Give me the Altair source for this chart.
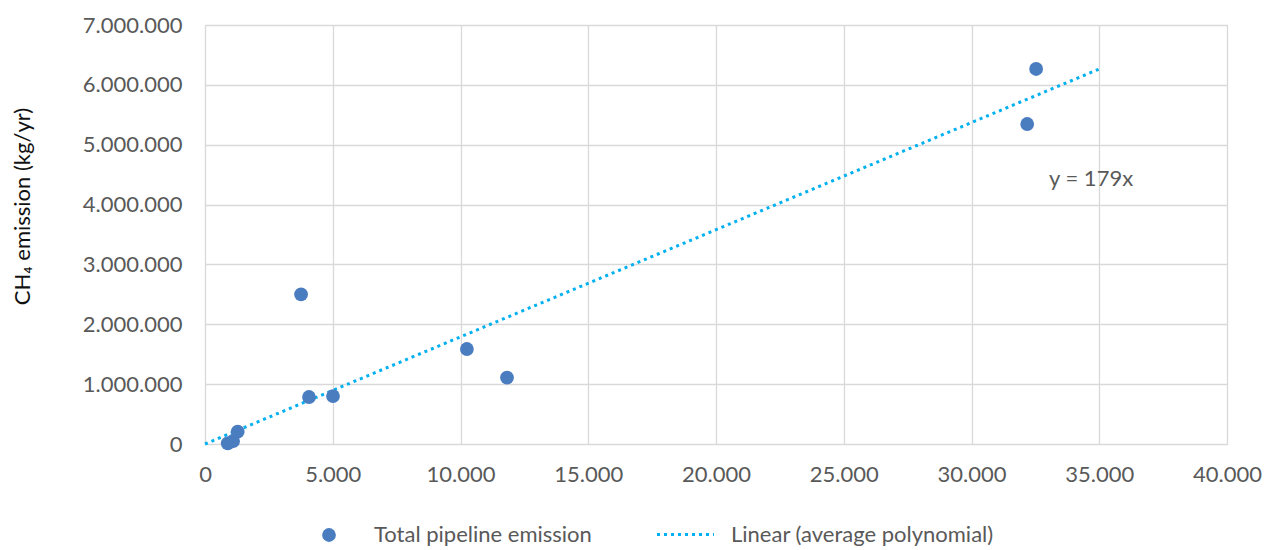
import altair as alt
import pandas as pd

# Observed pipelines: length (x) and CH4 emission (kg/yr)
pipe_x = [890, 1100, 1280, 3760, 4070, 5010, 10250, 11820, 32180, 32530]
pipe_y = [12000, 50000, 205000, 2500000, 785000, 800000, 1587000, 1110000, 5346000, 6265000]

# Linear trend y = 179x
trend_x = [0, 35000]
trend_y = [0, 6265000]

label_x = [34680]
label_y = [4420000]
label_text = ["y = 179x"]

FONT = "Lato"
FS = 22
GREY = "#595959"

pts = pd.DataFrame({"x": pipe_x, "y": pipe_y, "series": "Total pipeline emission"})
trend = pd.DataFrame({"x": trend_x, "y": trend_y, "series": "Linear (average polynomial)"})
lab = pd.DataFrame({"x": label_x, "y": label_y, "t": label_text})

fmt = "replace(format(datum.value, ','), /,/g, '.')"

xs = alt.Scale(domain=[0, 40000], nice=False, zero=True)
ys = alt.Scale(domain=[0, 7000000], nice=False, zero=True)

xaxis = alt.Axis(values=list(range(0, 40001, 5000)), labelExpr=fmt, title=None, ticks=False,
                 domain=False, grid=True, gridColor="#d9d9d9", gridWidth=1.3, labelPadding=20,
                 labelFlush=False, labelOverlap=False,
                 labelFont=FONT, labelFontSize=FS, labelColor=GREY)
yaxis = alt.Axis(values=list(range(0, 7000001, 1000000)), labelExpr=fmt, title="CH₄ emission (kg/yr)",
                 ticks=False, domain=False, grid=True, gridColor="#d9d9d9", gridWidth=1.3, labelPadding=23,
                 labelFlush=False, labelOverlap=False,
                 labelFont=FONT, labelFontSize=FS, labelColor=GREY,
                 titleFont=FONT, titleFontSize=FS, titleColor="#111111", titleFontWeight="normal",
                 titleX=-183, titleY=181, titleAngle=-90, titleAlign="center", titleBaseline="middle")

line = alt.Chart(trend).mark_line(strokeWidth=3, strokeDash=[3, 4], color="#00b0f0").encode(
    x=alt.X("x:Q", scale=xs, axis=xaxis),
    y=alt.Y("y:Q", scale=ys, axis=yaxis),
    strokeDash=alt.StrokeDash("series:N",
        scale=alt.Scale(domain=["Linear (average polynomial)"], range=[[3, 4]]),
        legend=alt.Legend(title=None, orient="none", legendX=450, legendY=479, padding=0,
                          symbolType="stroke", symbolSize=3250, symbolStrokeWidth=3,
                          symbolStrokeColor="#00b0f0", labelLimit=0,
                          labelFont=FONT, labelFontSize=FS, labelColor=GREY, labelOffset=15)),
)

points = alt.Chart(pts).mark_circle(size=190, opacity=1).encode(
    x=alt.X("x:Q", scale=xs),
    y=alt.Y("y:Q", scale=ys),
    color=alt.Color("series:N",
        scale=alt.Scale(domain=["Total pipeline emission"], range=["#4a7cc0"]),
        legend=alt.Legend(title=None, orient="none", legendX=113, legendY=499, padding=0,
                          symbolType="circle", symbolSize=190, symbolOpacity=1, labelLimit=0,
                          labelFont=FONT, labelFontSize=FS, labelColor=GREY, labelOffset=34)),
)

text = alt.Chart(lab).mark_text(font=FONT, fontSize=FS, color=GREY, align="center", baseline="middle").encode(
    x=alt.X("x:Q", scale=xs), y=alt.Y("y:Q", scale=ys), text="t:N")

chart = alt.layer(line, points, text).resolve_legend(color="independent", strokeDash="independent").properties(
    width=1022, height=419,
    autosize=alt.AutoSizeParams(type="none"),
    padding={"left": 197, "top": 17, "right": 37, "bottom": 105},
).configure_view(stroke=None).configure(background="white")

chart.save("out.html", embed_options={"renderer": "svg", "actions": False})
